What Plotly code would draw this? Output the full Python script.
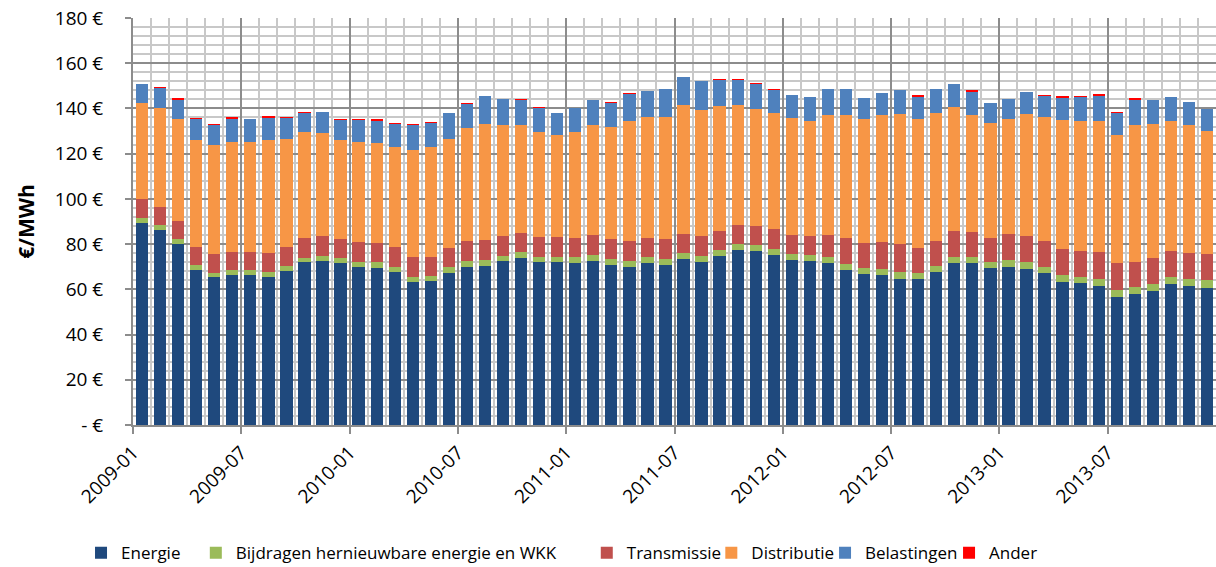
import numpy as np
import plotly.graph_objects as go

months = [f"{y}-{m:02d}" for y in range(2009, 2014) for m in range(1, 13)]

energie = [89.5, 86.2, 80.2, 68.6, 65.3, 66.2, 66.3, 65.6, 68.2, 71.9, 72.7, 71.5,
           70.0, 69.6, 67.8, 63.2, 63.5, 67.1, 70.0, 70.5, 72.5, 74.0, 71.9, 71.9,
           71.8, 72.7, 70.9, 70.0, 71.8, 70.9, 73.6, 72.2, 74.7, 77.3, 76.8, 75.3,
           72.8, 72.4, 71.5, 68.4, 66.6, 66.3, 64.7, 64.6, 67.5, 71.8, 71.8, 69.4,
           70.0, 69.0, 67.1, 63.4, 62.7, 61.6, 56.8, 58.1, 59.4, 62.2, 61.5, 60.7]
bijdragen = [2.2, 2.3, 2.1, 2.2, 2.1, 2.2, 2.1, 2.1, 2.1, 2.1, 2.2, 2.2,
             2.2, 2.3, 2.2, 2.4, 2.4, 2.6, 2.5, 2.5, 2.4, 2.4, 2.5, 2.5,
             2.5, 2.5, 2.5, 2.7, 2.5, 2.7, 2.5, 2.5, 2.7, 2.6, 2.7, 2.7,
             2.7, 2.6, 2.8, 2.9, 2.8, 2.8, 2.8, 2.6, 2.8, 2.7, 2.7, 2.7,
             3.0, 3.1, 2.9, 2.8, 2.8, 3.0, 2.9, 3.1, 3.0, 3.1, 3.1, 3.3]
transmissie = [8.1, 8.1, 8.1, 8.1, 8.1, 8.3, 8.3, 8.5, 8.3, 8.6, 8.8, 8.7,
               8.9, 8.7, 8.6, 8.7, 8.5, 8.4, 8.9, 8.8, 8.8, 8.5, 8.6, 8.6,
               8.6, 8.7, 9.0, 8.5, 8.6, 8.8, 8.5, 8.9, 8.5, 8.6, 8.5, 8.7,
               8.7, 8.7, 9.6, 11.3, 11.2, 11.8, 12.4, 11.2, 11.2, 11.1, 11.0, 10.8,
               11.5, 11.5, 11.4, 11.5, 11.6, 11.9, 12.1, 11.0, 11.5, 11.5, 11.5, 11.6]
distributie = [42.5, 43.7, 44.9, 47.2, 48.2, 48.3, 48.5, 49.7, 47.9, 47.0, 45.4, 43.5,
               43.9, 44.0, 44.3, 47.5, 48.4, 48.5, 50.0, 51.3, 49.0, 47.8, 46.6, 45.1,
               46.7, 48.6, 49.4, 53.3, 53.2, 54.0, 56.9, 55.7, 55.0, 53.2, 51.9, 51.3,
               51.4, 50.8, 53.1, 54.5, 54.6, 56.2, 57.5, 56.8, 56.4, 55.0, 51.8, 50.8,
               51.0, 54.0, 54.6, 57.0, 57.4, 58.1, 56.3, 60.5, 59.1, 57.8, 56.4, 54.4]
belastingen = [8.5, 8.8, 8.8, 9.5, 9.1, 10.6, 10.1, 10.3, 9.4, 8.5, 9.2, 9.1,
               10.0, 10.2, 10.5, 11.0, 11.0, 11.2, 10.8, 12.4, 11.5, 11.2, 10.7, 10.0,
               10.5, 11.2, 10.7, 12.1, 11.8, 12.1, 12.5, 12.7, 12.0, 11.1, 11.1, 10.4,
               10.4, 10.4, 11.5, 11.6, 9.6, 9.6, 10.6, 10.2, 10.8, 10.3, 10.3, 8.7,
               8.8, 9.7, 9.6, 10.3, 10.6, 11.2, 10.0, 11.4, 10.7, 10.6, 10.4, 9.8]
ander = [0.0, 0.1, 0.15, 0.15, 0.15, 0.2, 0.0, 0.2, 0.15, 0.15, 0.0, 0.15,
         0.15, 0.1, 0.15, 0.15, 0.15, 0.0, 0.1, 0.0, 0.0, 0.1, 0.15, 0.0,
         0.0, 0.0, 0.2, 0.1, 0.0, 0.0, 0.0, 0.0, 0.1, 0.1, 0.1, 0.2,
         0.0, 0.0, 0.0, 0.0, 0.0, 0.0, 0.0, 0.2, 0.0, 0.0, 0.15, 0.0,
         0.0, 0.0, 0.2, 0.25, 0.15, 0.25, 0.2, 0.15, 0.0, 0.0, 0.0, 0.0]

series_names = ["Energie", "Bijdragen hernieuwbare energie en WKK", "Transmissie",
                "Distributie", "Belastingen", "Ander"]
series_values = [energie, bijdragen, transmissie, distributie, belastingen, ander]
series_colors = ["#1F497D", "#9BBB59", "#C0504D", "#F79646", "#4F81BD", "#FF0000"]
# legend left edges (paper fraction of plot width)
legend_x = [-0.048, 0.058, 0.419, 0.534, 0.639, 0.7535]

ytick_vals = list(range(0, 181, 20))
ytick_text = ["- €"] + [f"{v} €" for v in ytick_vals[1:]]

xpos = np.arange(len(months)) + 0.5
xtick_vals = list(range(0, len(months), 6))
xtick_text = [months[i] for i in xtick_vals]

FONT = "Open Sans, Noto Sans, sans-serif"

fig = go.Figure()
legend_layouts = {}
for k, (name, vals, color) in enumerate(zip(series_names, series_values, series_colors)):
    key = "legend" if k == 0 else f"legend{k + 1}"
    fig.add_trace(go.Bar(
        x=xpos, y=vals, name=name, width=0.68,
        marker=dict(color=color, line=dict(width=0)),
        legend=key,
    ))
    legend_layouts[key] = dict(
        orientation="h", x=legend_x[k], xanchor="left", y=-0.315, yanchor="middle",
        font=dict(size=17), itemwidth=30, bgcolor="rgba(0,0,0,0)",
    )

fig.update_layout(
    barmode="stack",
    width=1216, height=567,
    margin=dict(l=133, r=0, t=18, b=142, autoexpand=False),
    paper_bgcolor="white", plot_bgcolor="white",
    font=dict(family=FONT, size=19, color="#000000"),
    showlegend=True,
    bargap=0,
    **legend_layouts,
)
fig.update_xaxes(
    range=[0, 60], automargin=False,
    tickmode="array", tickvals=xtick_vals, ticktext=xtick_text,
    tickangle=-45,
    showgrid=True, gridcolor="#8C8C8C", gridwidth=2,
    showline=True, linecolor="#8C8C8C", linewidth=2,
    ticks="outside", ticklen=7, tickcolor="#8C8C8C", tickwidth=2,
    minor=dict(tickmode="linear", tick0=0, dtick=1, showgrid=True,
               gridcolor="#C8C8C8", gridwidth=2, ticks=""),
    zeroline=False,
    tickfont=dict(size=19),
)
fig.update_yaxes(
    range=[0, 180], automargin=False,
    tickmode="array", tickvals=ytick_vals, ticktext=ytick_text,
    showgrid=True, gridcolor="#8C8C8C", gridwidth=2,
    showline=True, linecolor="#8C8C8C", linewidth=2,
    ticks="outside", ticklen=6, tickcolor="#8C8C8C", tickwidth=2,
    ticklabelstandoff=18,
    minor=dict(tickmode="linear", tick0=0, dtick=4, showgrid=True,
               gridcolor="#C8C8C8", gridwidth=2, ticks=""),
    zeroline=False,
    title=dict(text="<b>€/MWh</b>", font=dict(size=21), standoff=14),
    tickfont=dict(size=19),
)

fig.write_html("out.html", config={"displayModeBar": False})

# remove the browser's default page margin so the figure fills the window
with open("out.html", "r", encoding="utf-8") as f:
    html = f.read()
html = html.replace("<body>", '<body style="margin:0;padding:0;overflow:hidden">', 1)
with open("out.html", "w", encoding="utf-8") as f:
    f.write(html)
